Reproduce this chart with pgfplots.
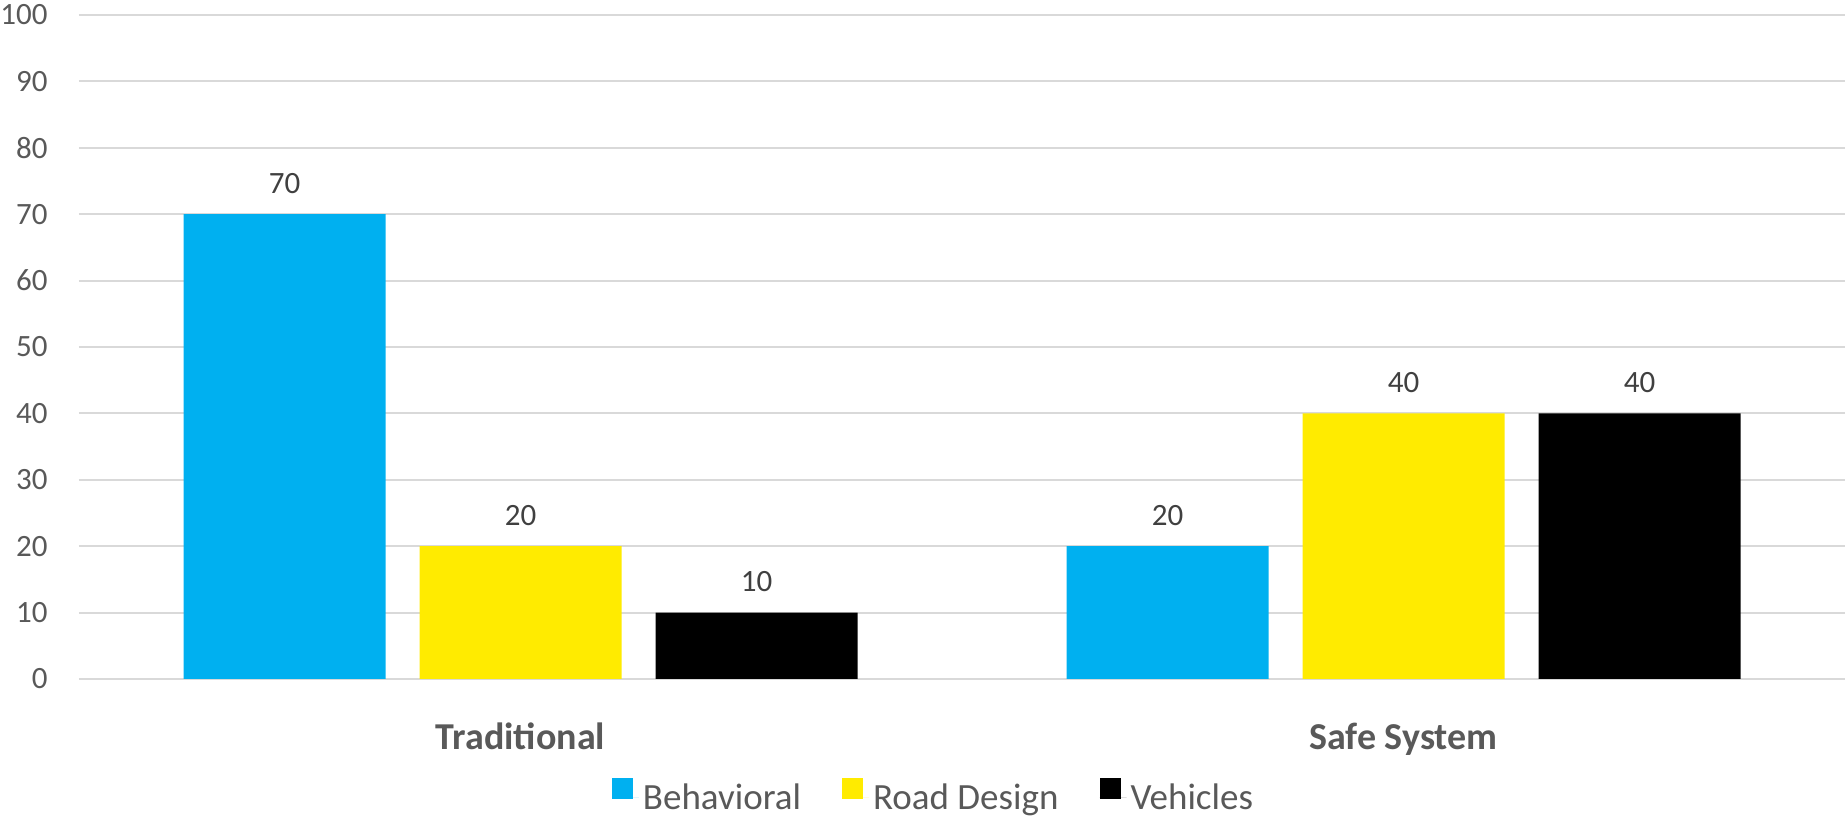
\documentclass[border=0pt]{standalone}
\usepackage{fontspec}
\setmainfont{Carlito}
\usepackage{pgfplots}
\pgfplotsset{compat=1.18}
\definecolor{cblue}{HTML}{00B0F0}
\definecolor{cyellow}{HTML}{FFEB00}
\definecolor{cgrid}{HTML}{D9D9D9}
\definecolor{ctick}{HTML}{595959}
\definecolor{clab}{HTML}{404040}
\begin{document}
\begin{tikzpicture}
\path[use as bounding box] (-39.5pt,-69.5pt) rectangle (883pt,339.5pt);
\begin{axis}[
  at={(0,0)}, anchor=south west,
  scale only axis, width=883pt, height=332pt,
  ybar=17pt, bar width=101pt,
  xmin=-0.5, xmax=1.5, ymin=0, ymax=100,
  xtick={0,1}, xticklabels={Traditional, Safe System},
  ytick={0,10,...,100},
  ymajorgrids, major grid style={draw=cgrid, line width=1pt},
  axis line style={draw=none}, tick style={draw=none},
  /pgf/number format/assume math mode=true,
  yticklabel style={font=\fontsize{15.5}{18}\selectfont, text=ctick, anchor=east, inner sep=0pt, xshift=-15.5pt},
  xticklabel style={font=\fontsize{19}{22}\selectfont\bfseries, text=ctick, anchor=base, inner sep=0pt, yshift=-31pt},
  nodes near coords,
  nodes near coords style={font=\fontsize{15.5}{18}\selectfont, text=clab, anchor=south, inner sep=0pt, yshift=10pt},
  legend columns=3,
  legend style={draw=none, fill=none, at={(0.3018,-0.1777)}, anchor=west, inner sep=0pt, outer sep=0pt,
    font=\fontsize{18.5}{22}\selectfont, text=ctick,
    /tikz/every even column/.append style={column sep=18.5pt}},
  legend image code/.code={\fill[#1] (0pt,-0.5pt) rectangle (10.5pt,10pt); \path (0pt,0pt) -- (13.5pt,0pt);},
]
\addplot[fill=cblue, draw=none] coordinates {(0,70) (1,20)};
\addplot[fill=cyellow, draw=none] coordinates {(0,20) (1,40)};
\addplot[fill=black, draw=none] coordinates {(0,10) (1,40)};
\legend{Behavioral, Road Design, Vehicles}
\end{axis}
\end{tikzpicture}
\end{document}
